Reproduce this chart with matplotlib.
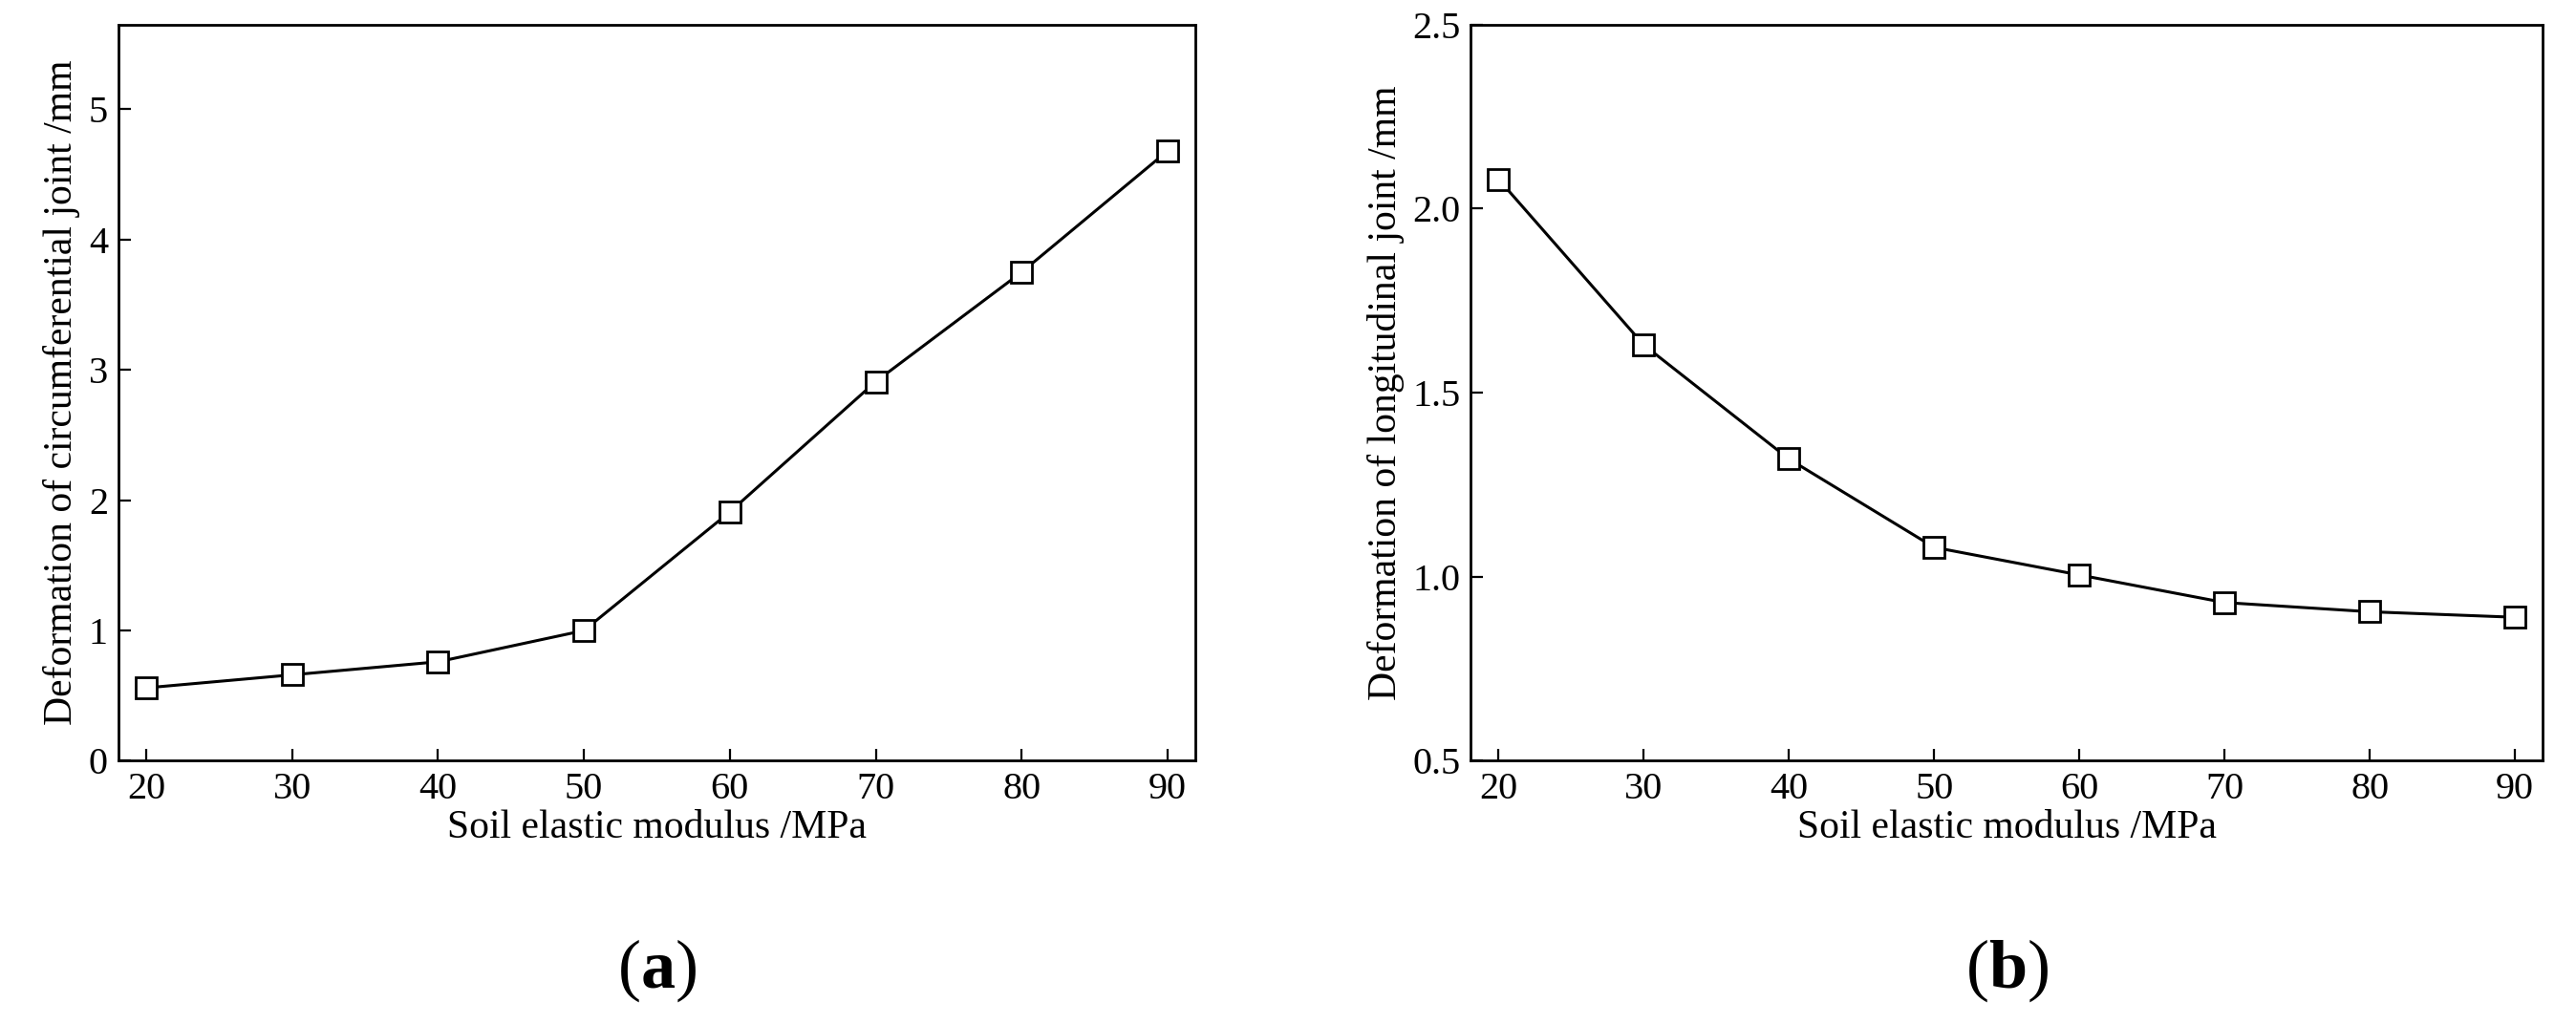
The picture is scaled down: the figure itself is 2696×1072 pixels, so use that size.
import matplotlib
matplotlib.use("Agg")
import matplotlib.pyplot as plt

x = [20, 30, 40, 50, 60, 70, 80, 90]
circ = [0.56, 0.66, 0.76, 1.0, 1.91, 2.91, 3.75, 4.68]
longi = [2.08, 1.63, 1.32, 1.08, 1.005, 0.93, 0.905, 0.89]

plt.rcParams['font.family'] = ['Liberation Serif', 'DejaVu Serif']
plt.rcParams['mathtext.fontset'] = 'custom'
plt.rcParams['mathtext.rm'] = 'Liberation Serif'
plt.rcParams['mathtext.bf'] = 'Liberation Serif:bold'
fig = plt.figure(figsize=(26.96, 10.72), dpi=100)
ax1 = fig.add_axes([0.046, 0.257, 0.418, 0.719])
ax2 = fig.add_axes([0.571, 0.257, 0.416, 0.719])

for ax, y, ylab, lim, yt, tag in [
    (ax1, circ, 'Deformation of circumferential joint /mm', (0, 5.65), [0, 1, 2, 3, 4, 5], 'a'),
    (ax2, longi, 'Deformation of longitudinal joint /mm', (0.5, 2.5), [0.5, 1.0, 1.5, 2.0, 2.5], 'b')]:
    ax.plot(x, y, color='black', lw=2.2, marker='s', ms=16, mfc='white', mec='black', mew=2)
    ax.set_xlim(18.1, 91.9)
    ax.set_ylim(*lim)
    ax.set_xticks(x)
    ax.set_yticks(yt)
    if ax is ax2:
        ax.set_yticklabels([f'{v:.1f}' for v in yt])
    ax.tick_params(direction='in', labelsize=29, length=9, width=1.6, pad=8)
    for s in ax.spines.values():
        s.set_linewidth(2)
    ax.set_xlabel('Soil elastic modulus /MPa', fontsize=30, labelpad=2)
    ax.set_ylabel(ylab, fontsize=30, labelpad=6)
    ax.text(0.5, -0.285, r'$\mathrm{(}\mathbf{' + tag + r'}\mathrm{)}$', transform=ax.transAxes,
            ha='center', va='center', fontsize=52)

fig.savefig('out.png', dpi=100)
